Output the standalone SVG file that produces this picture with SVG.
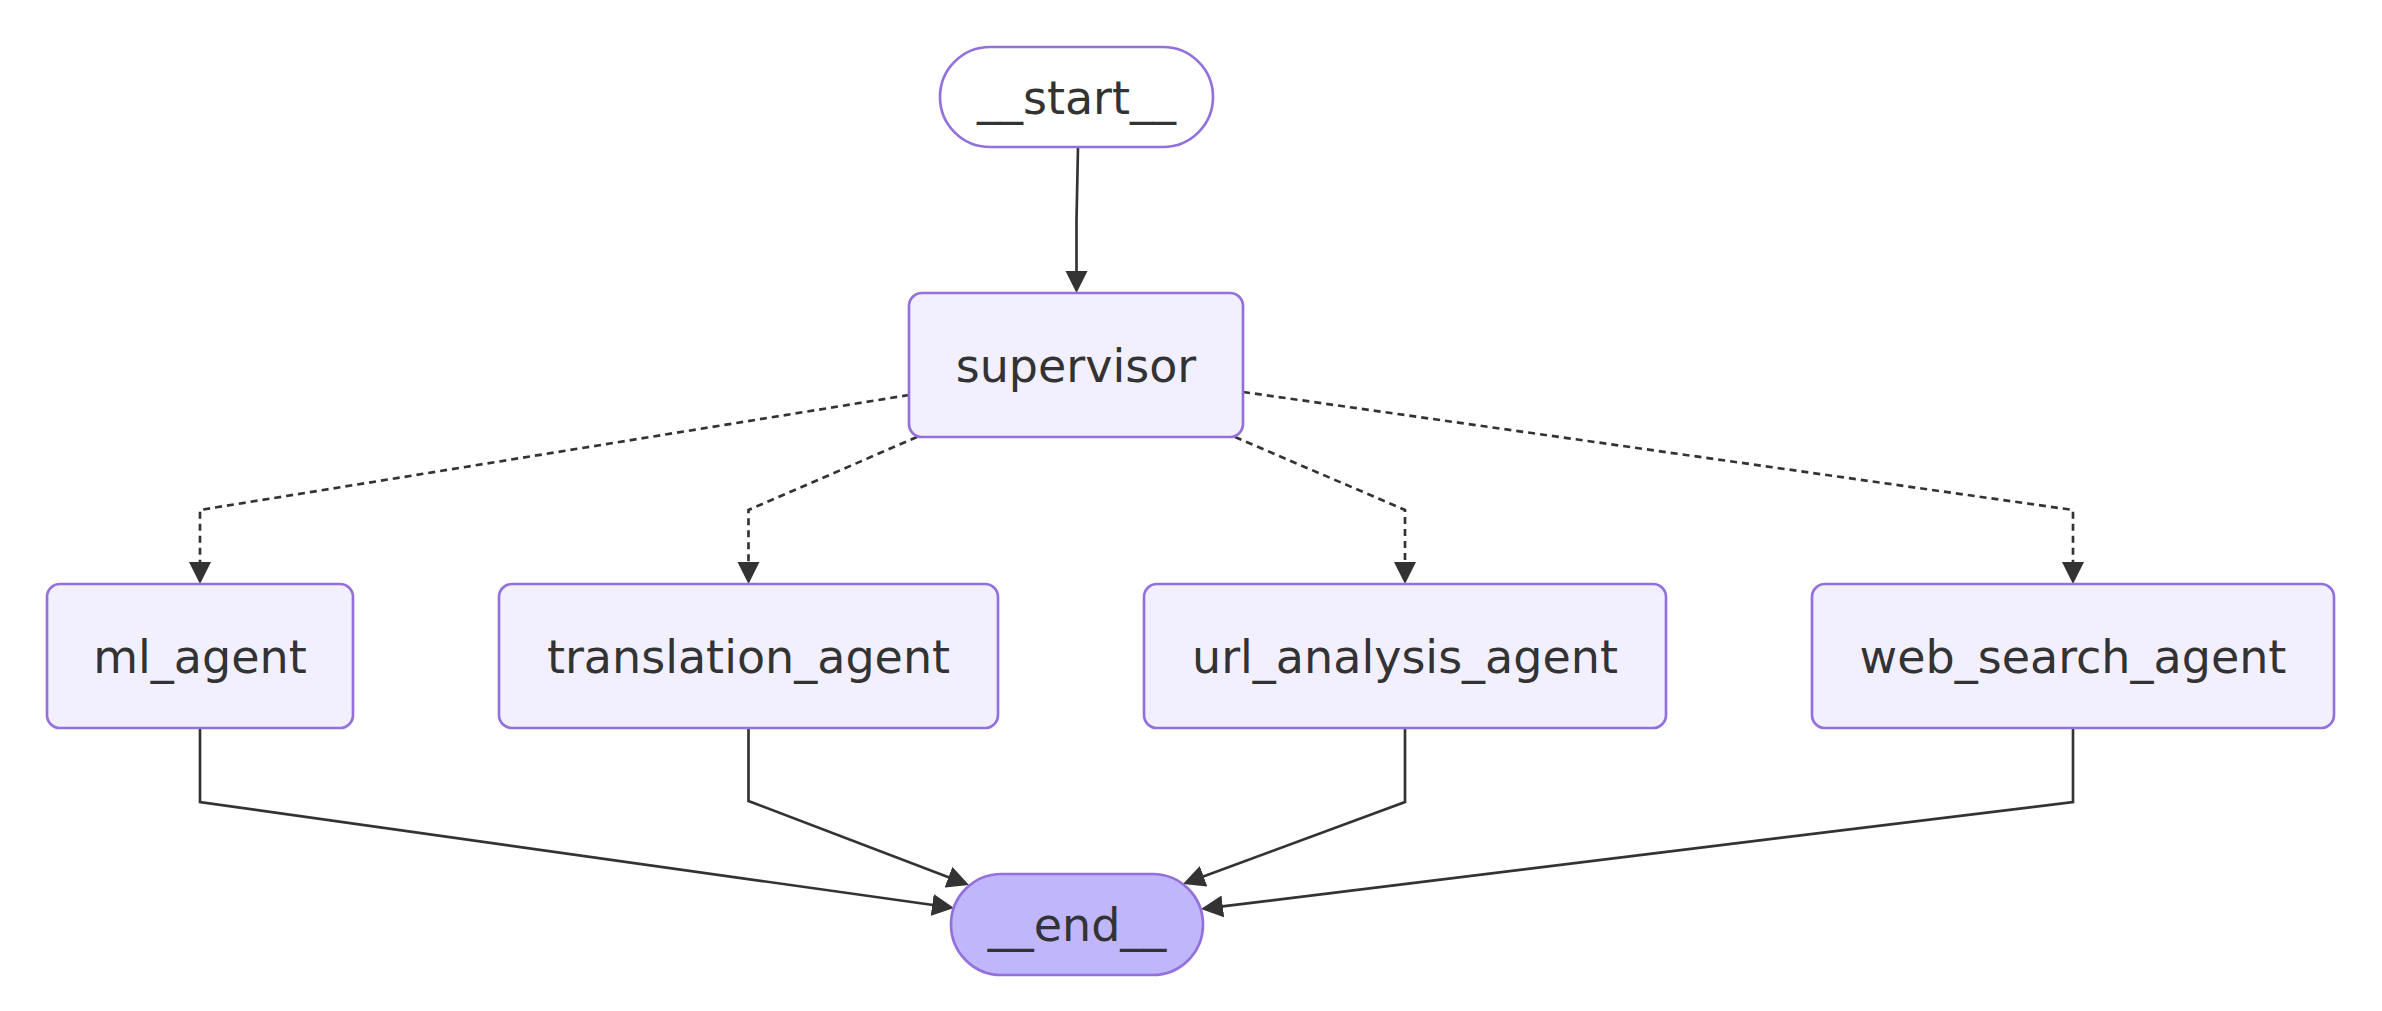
<svg xmlns="http://www.w3.org/2000/svg" width="2382" height="1011" viewBox="0 0 2382 1011">
<defs>
<style>
.node rect{fill:#f2f0ff;stroke:#9370db;stroke-width:2.67}
.node text{font-family:"DejaVu Sans",sans-serif;font-size:46px;fill:#333;text-anchor:middle}
#start rect{fill:#ffffff}
#end rect{fill:#bfb6fc}
.edge{fill:none;stroke:#333;stroke-width:2.67}
.dotted{stroke-dasharray:7 5}
</style>
<marker id="arrow" viewBox="0 0 10 10" refX="7.7" refY="5" markerUnits="userSpaceOnUse" markerWidth="22" markerHeight="23" orient="auto">
<path d="M0,0 L10,5 L0,10 z" fill="#333"/>
</marker>
</defs>
<rect width="2382" height="1011" fill="#ffffff"/>
<g id="edges">
<path class="edge" d="M1078,147 L1076.5,220 L1076.5,288" marker-end="url(#arrow)"/>
<path class="edge dotted" d="M909,395 L200,510 L200,579" marker-end="url(#arrow)"/>
<path class="edge dotted" d="M917,437 L748.5,510 L748.5,579" marker-end="url(#arrow)"/>
<path class="edge dotted" d="M1235,437 L1405,510 L1405,579" marker-end="url(#arrow)"/>
<path class="edge dotted" d="M1243,392 L2073,510 L2073,579" marker-end="url(#arrow)"/>
<path class="edge" d="M200,728 L200,802 L949,907.3" marker-end="url(#arrow)"/>
<path class="edge" d="M748.5,728 L748.5,801 L964.3,883.2" marker-end="url(#arrow)"/>
<path class="edge" d="M1405,728 L1405,802 L1187.7,882.2" marker-end="url(#arrow)"/>
<path class="edge" d="M2073,728 L2073,802 L1206,908.4" marker-end="url(#arrow)"/>
</g>
<g id="start" class="node"><rect x="940" y="47" width="273" height="100" rx="50" ry="50"/><text x="1076.5" y="113.5">__start__</text></g>
<g id="supervisor" class="node"><rect x="909" y="293" width="334" height="144" rx="13" ry="13"/><text x="1076" y="381.5">supervisor</text></g>
<g id="ml_agent" class="node"><rect x="47" y="584" width="306" height="144" rx="13" ry="13"/><text x="200" y="672.5">ml_agent</text></g>
<g id="translation_agent" class="node"><rect x="499" y="584" width="499" height="144" rx="13" ry="13"/><text x="748.5" y="672.5">translation_agent</text></g>
<g id="url_analysis_agent" class="node"><rect x="1144" y="584" width="522" height="144" rx="13" ry="13"/><text x="1405" y="672.5">url_analysis_agent</text></g>
<g id="web_search_agent" class="node"><rect x="1812" y="584" width="522" height="144" rx="13" ry="13"/><text x="2073" y="672.5">web_search_agent</text></g>
<g id="end" class="node"><rect x="951" y="874" width="252" height="101" rx="50.5" ry="50.5"/><text x="1077" y="941">__end__</text></g>
</svg>
